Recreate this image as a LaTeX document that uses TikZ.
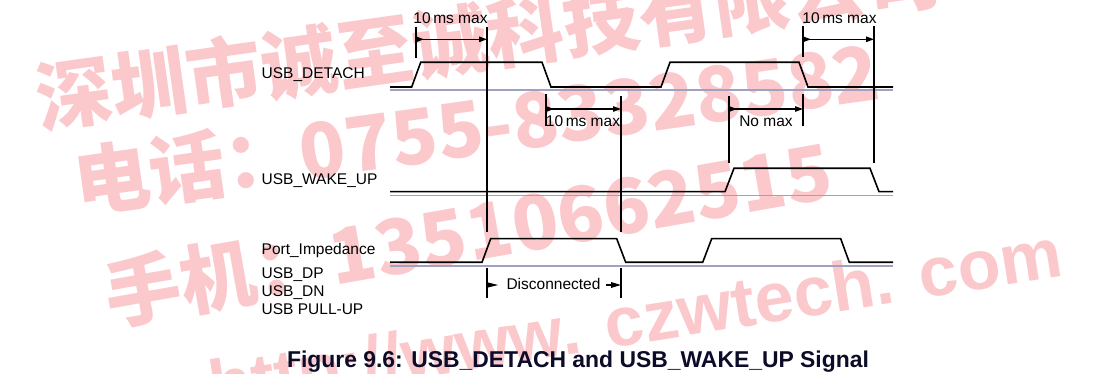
\documentclass[tikz,border=0pt]{standalone}
\usepackage{fontspec}
\setmainfont{Liberation Sans}
\newfontfamily\cjk{Noto Sans CJK SC}
\usetikzlibrary{arrows.meta}
\definecolor{basegray}{RGB}{160,160,192}
\definecolor{wm}{RGB}{251,200,204}
\definecolor{captc}{RGB}{12,12,40}
\begin{document}
\begin{tikzpicture}[x=1pt,y=-1pt,
  sig/.style={line width=1.6pt,line join=miter},
  baseln/.style={line width=1.6pt,basegray},
  vline/.style={line width=1.2pt},
  dimarr/.style={line width=1.2pt,{Triangle[reversed,length=8pt,width=5.5pt]}-{Triangle[length=8pt,width=5.5pt]}},
  lbl/.style={font=\fontsize{15.5}{18}\selectfont,inner sep=0pt,anchor=base west},
  dimlbl/.style={font=\fontsize{15.5}{18}\selectfont,inner sep=0pt,anchor=base},
  wmark/.style={font=\cjk\bfseries\fontsize{76}{80}\selectfont,text=wm,inner sep=0pt,anchor=base west},
  wmlat/.style={font=\bfseries\fontsize{70}{80}\selectfont,text=wm,inner sep=0pt,anchor=base east},
]
\useasboundingbox[fill=white] (0,0) rectangle (1101,374);
% watermark
\node[wmark,rotate=8] (wm1) at (40,128) {深圳市诚至诚科技有限公司};
\node[wmark,rotate=8] (wm2) at (78,212) {电话：0755-83328582};
\node[wmark,rotate=10] (wm3) at (110,325) {手机：13510662515};
\node[wmlat,rotate=9] (wm4) at (1065,276) {http://www. czwtech. com};
% baselines
\coordinate (b1l) at (390,90); \coordinate (b1r) at (893,90);
\coordinate (b2l) at (390,195.7); \coordinate (b2r) at (893,195.7);
\coordinate (b3l) at (390,266); \coordinate (b3r) at (893,266);
\draw[baseln] (b1l) -- (b1r);
\draw[baseln] (b2l) -- (b2r);
\draw[baseln] (b3l) -- (b3r);
% signals
\draw[sig] (390,87) -- (411.7,87) -- (420.7,62.3) -- (542,62.3) -- (551,87) -- (661,87) -- (670,62.3) -- (799,62.3) -- (808,87) -- (893,87);
\draw[sig] (390,191.7) -- (725,191.7) -- (734,168.3) -- (870,168.3) -- (879,191.7) -- (893,191.7);
\draw[sig] (390,262.3) -- (482,262.3) -- (490.7,238.7) -- (616.7,238.7) -- (625.7,262.3) -- (702.7,262.3) -- (711.7,238.7) -- (840.7,238.7) -- (849.3,262.3) -- (893,262.3);
% vertical lines and ticks
\coordinate (t1a) at (416,27); \coordinate (t1b) at (416,58);
\coordinate (v1a) at (487,27); \coordinate (v1b) at (487,232);
\coordinate (t2a) at (546,94); \coordinate (t2b) at (546,126);
\coordinate (v2a) at (621,96); \coordinate (v2b) at (621,232);
\coordinate (v3a) at (729,96); \coordinate (v3b) at (729,163);
\coordinate (t3a) at (803,94); \coordinate (t3b) at (803,126);
\coordinate (t4a) at (803,26); \coordinate (t4b) at (803,57);
\coordinate (v4a) at (874,26); \coordinate (v4b) at (874,163);
\coordinate (d1a) at (487,268); \coordinate (d1b) at (487,298);
\coordinate (d2a) at (621,268); \coordinate (d2b) at (621,298);
\foreach \p in {t1,v1,t2,v2,v3,t3,t4,v4,d1,d2} \draw[vline] (\p a) -- (\p b);
% dimension arrows
\coordinate (a1l) at (416,39.3); \coordinate (a1r) at (487,39.3);
\coordinate (a2l) at (546,109); \coordinate (a2r) at (621,109);
\coordinate (a3l) at (729,109); \coordinate (a3r) at (803,109);
\coordinate (a4l) at (803,39.3); \coordinate (a4r) at (874,39.3);
\draw[dimarr] (a1l) -- (a1r);
\draw[dimarr] (a2l) -- (a2r);
\draw[dimarr] (a3l) -- (a3r);
\draw[dimarr] (a4l) -- (a4r);
\coordinate (dl) at (487,285); \coordinate (dr) at (621,285);
\fill ([yshift=2.8pt]dl) -- ([xshift=11pt]dl) -- ([yshift=-2.8pt]dl) -- cycle;
\draw[line width=1.2pt,-{Triangle[length=10pt,width=5.6pt]}] ([xshift=-15pt]dr) -- (dr);
% dimension labels
\node[dimlbl] (l1) at (450.5,24) {10\,ms max};
\node[dimlbl] (l2) at (583,126.5) {10\,ms max};
\node[dimlbl] (l3) at (766,126.5) {No max};
\node[dimlbl] (l4) at (839.5,24) {10\,ms max};
\node[dimlbl] (l5) at (553.5,290) {Disconnected};
% signal labels
\node[lbl] (s1) at (261.5,78.3) {USB\_DETACH};
\node[lbl] (s2) at (261.5,184.3) {USB\_WAKE\_UP};
\node[lbl] (s3) at (261.5,254.3) {Port\_Impedance};
\node[lbl] (s4) at (261.5,278.3) {USB\_DP};
\node[lbl] (s5) at (261.5,296.7) {USB\_DN};
\node[lbl] (s6) at (261.5,314) {USB PULL-UP};
% caption
\node[font=\bfseries\fontsize{22.9}{26}\selectfont,text=captc,inner sep=0pt,anchor=base] (cap) at (578,367) {Figure 9.6: USB\_DETACH and USB\_WAKE\_UP Signal};
\end{tikzpicture}
\end{document}
